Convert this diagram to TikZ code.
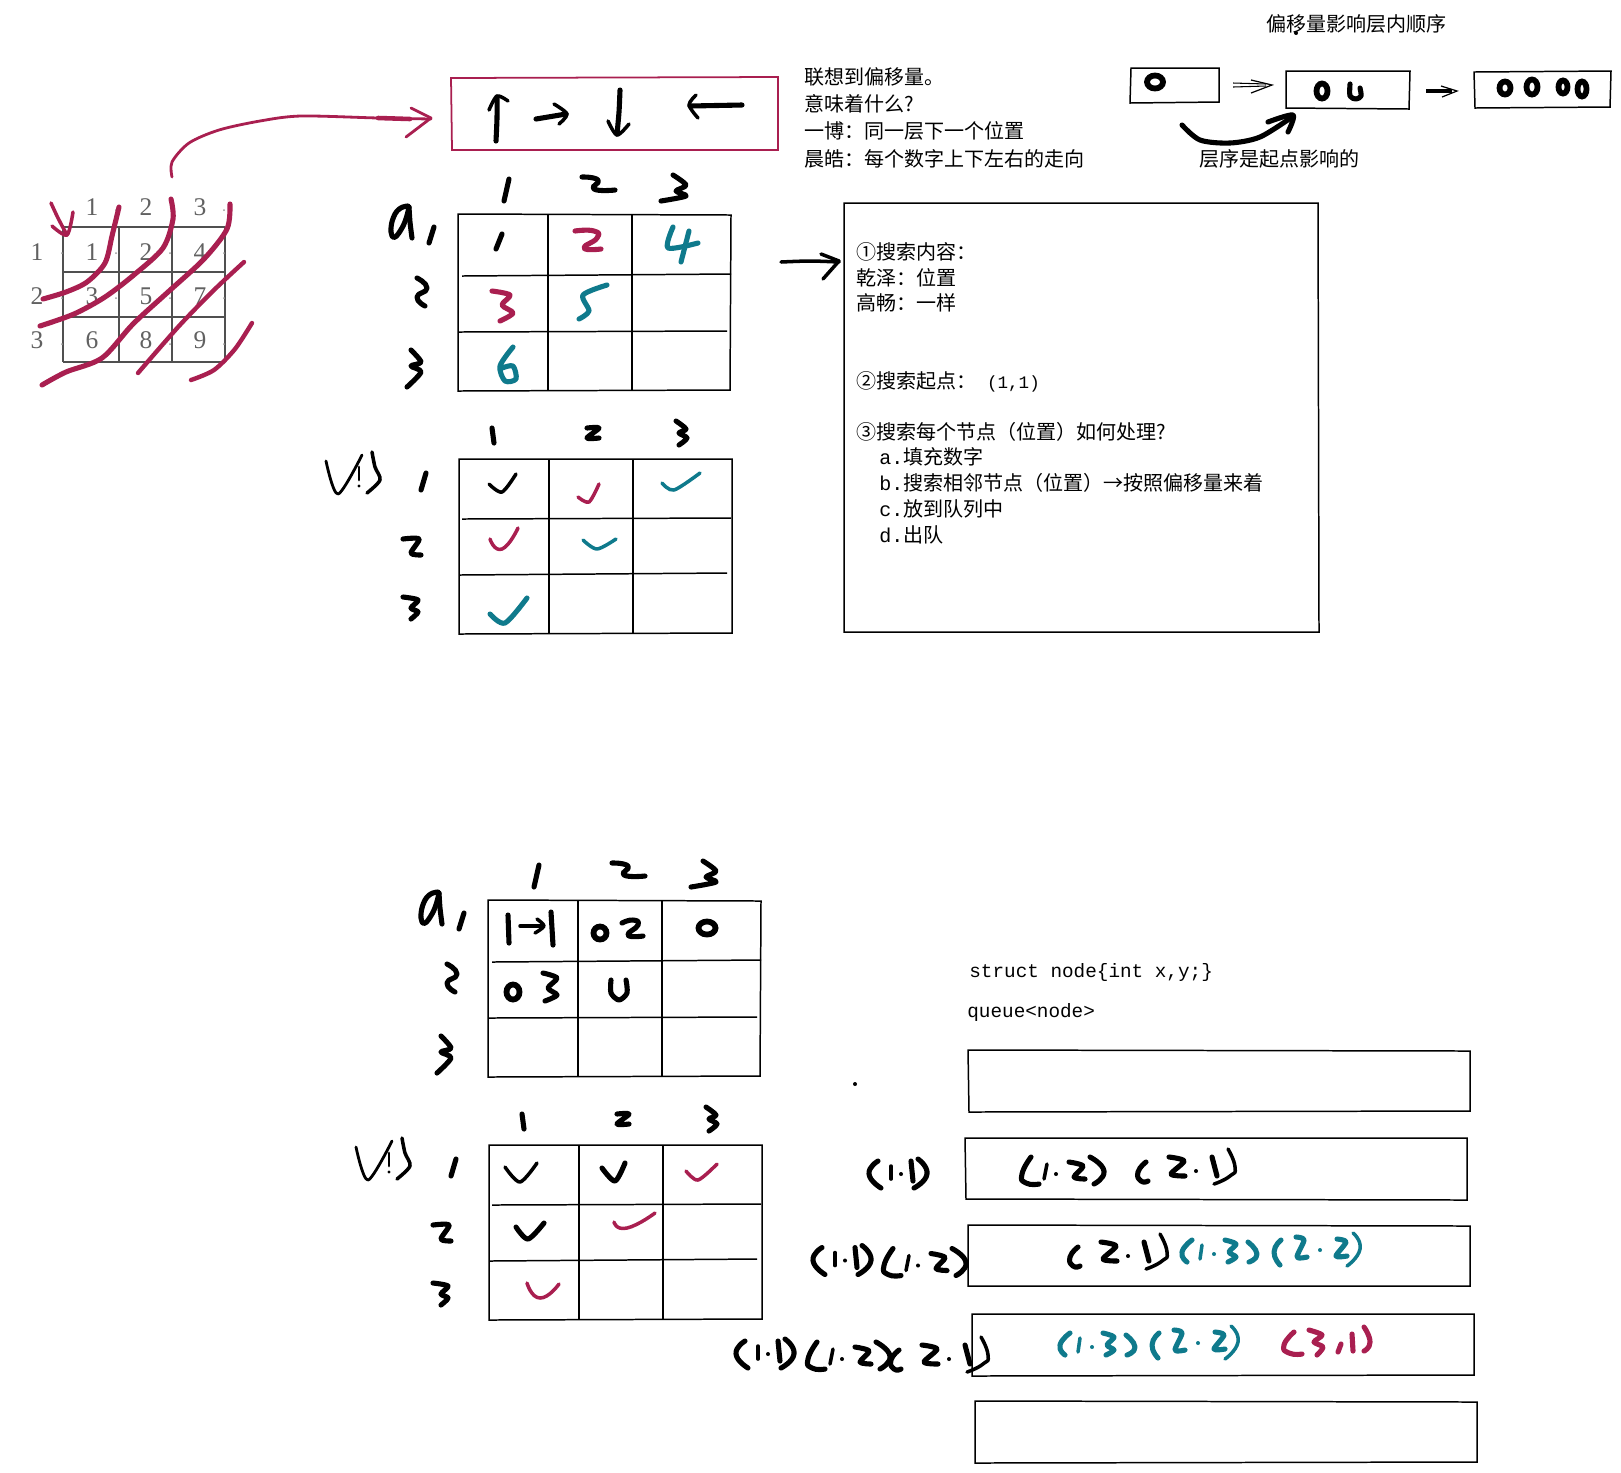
\documentclass[tikz,border=0pt]{standalone}
\usepackage{fontspec}
\setmainfont{Noto Sans CJK SC}
\setmonofont{Liberation Mono}
\newfontfamily\griddigitfont{Liberation Serif}
\definecolor{plum}{HTML}{A91F50}
\definecolor{sea}{HTML}{0F7A8C}
\definecolor{griddark}{HTML}{505050}
\newcommand{\hand}[2][]{\draw[pen,#1] plot[smooth] coordinates {#2};}
\newcommand{\bow}[2][]{\draw[pen,#1] plot[smooth,tension=1] coordinates {#2};}

\begin{document}
\begin{tikzpicture}[
    x=0.02cm,         % 1 unit = 1 pixel of the sketch
    y=-0.02cm,
    pen/.style={line width=2.9pt, line cap=round, line join=round},
    fine/.style={line width=2pt, line cap=round, line join=round},
    thinpen/.style={line width=1.6pt, line cap=round, line join=round},
    zero/.style={line width=3.3pt},
    box/.style={line width=0.85pt},
    note/.style={anchor=west, inner sep=0pt, font=\fontsize{11.4}{13}\selectfont, text height=0.85em, text depth=0.2em},
    code/.style={anchor=west, inner sep=0pt, font=\fontsize{11}{13}\selectfont\ttfamily, text height=0.8em, text depth=0.2em},
    griddigit/.style={inner sep=0pt, text=black!62, font=\fontsize{14.5}{16}\selectfont\griddigitfont},
]
\useasboundingbox (0,0) rectangle (1621,1472);

% Small grid with its diagonals
\foreach \x in {63,119,172,225} \draw[griddark, line width=0.85pt] (\x,227) -- (\x,362);
\foreach \y in {227,272,317,362} \draw[griddark, line width=0.85pt] (63,\y) -- (225,\y);
\foreach \c/\x/\t in {1/92/1, 2/146/2, 3/200/3}
    \node[griddigit] (top\c) at (\x,207) {\t};
\foreach \r/\y/\t in {1/252/1, 2/296/2, 3/340/3}
    \node[griddigit] (side\r) at (37,\y) {\t};
\foreach \n/\x/\y/\t in {a/92/252/1, b/146/252/2, c/200/252/4,
                         d/92/296/3, e/146/296/5, f/200/296/7,
                         g/92/340/6, h/146/340/8, i/200/340/9}
    \node[griddigit] (cell\n) at (\x,\y) {\t};
\foreach \x in {62,116,170,224}
    \foreach \y in {253,298,344}
        \fill[gray!80] (\x,\y) circle (1);
\foreach \x in {116,224} \fill[gray!80] (\x,210) circle (1);

\hand[plum,fine]{(51,203) (58,218) (67,235)}
\hand[plum,fine]{(52,226) (67,235) (73,212)}
\hand[plum]{(119,207) (112,236) (105,263) (87,282) (66,292) (43,299)}
\hand[plum]{(171,199) (173,219) (163,248) (135,274) (105,297) (74,314) (40,326)}
\hand[plum]{(230,204) (227,229) (204,259) (168,292) (133,324) (102,358) (66,372) (42,385)}
\hand[plum,line width=2.5pt]{(244,262) (214,290) (179,326) (138,373)}
\hand[plum,line width=2.5pt]{(252,323) (235,349) (214,370) (191,380)}

% Long arrow up to the direction box
\hand[plum,thinpen]{(172,177) (172,162) (189,143) (219,130) (260,121) (301,116) (378,118) (431,119)}
\draw[plum, line width=2.6pt, line cap=round] (378,118) -- (410,119);
\draw[plum, thinpen] (411,108) -- (431,118) -- (406,137);

% Direction box
\draw[plum, line width=1pt] (451,78) -- (778,77) -- (778,150) -- (452,150) -- cycle;
\hand{(496,141) (497,118) (497,97)}
\hand[fine]{(489,110) (497,96) (508,101)}
\hand{(536,119) (566,114)}
\hand[fine]{(554,104) (567,114) (559,124)}
\hand{(620,90) (619,112) (617,134)}
\hand[fine]{(608,121) (617,135) (629,124)}
\hand{(742,105) (690,106)}
\hand[fine]{(696,95) (689,105) (698,118)}

% Table a (top one, repeated below)
\def\tablea{
    \draw[box] (458,214) -- (731,215) -- (730,390) -- (458,391) -- cycle;
    \draw[box] (548,214) -- (548,390);
    \draw[box] (632,214) -- (632,390);
    \draw[box] (462,276) -- (731,274);
    \draw[box] (459,332) -- (727,331);
    \hand{(509,179) (504,201)}
    \bow{(582,177) (598,180) (594,189) (615,190)}
    \hand{(673,175) (686,185) (676,191) (686,196) (661,201)}
    \bow{(408,206) (395,214) (392,236) (402,228) (409,207)}
    \hand{(409,207) (410,222) (412,238)}
    \hand{(434,227) (429,243)}
    \bow{(417,278) (427,288) (417,297) (425,306)}
    \hand{(411,350) (421,362) (411,366) (421,372) (407,387)}
}
\tablea
\hand{(502,234) (496,249)}
\bow[plum]{(575,231) (594,231) (597,238) (584,248) (601,249)}
\hand[sea]{(673,227) (668,248) (698,243)}
\hand[sea]{(689,231) (681,262)}
\hand[plum]{(492,291) (510,295) (502,305) (513,313) (500,321)}
\hand[sea]{(607,285) (583,295) (589,311) (579,319)}
\hand[sea]{(513,347) (500,366) (505,381) (516,379) (513,366) (502,368)}

% Table vis (top one, repeated below)
\def\tablevis{
    \draw[box] (459,459) -- (732,459) -- (732,633) -- (459,634) -- cycle;
    \draw[box] (549,459) -- (549,633);
    \draw[box] (633,460) -- (633,633);
    \draw[box] (462,519) -- (731,518);
    \draw[box] (459,575) -- (727,573);
    \hand{(492,428) (494,443)}
    \hand{(587,428) (599,428) (587,438) (599,438)}
    \hand{(676,421) (686,429) (679,433) (687,438) (679,445)}
    \hand[thinpen]{(326,461) (338,494) (362,455)}
    \hand[thinpen]{(359,467) (359,480)}
    \fill (359,486) circle (1.6);
    \hand[fine]{(372,452) (375,467) (380,480) (367,493)}
    \hand{(426,473) (421,490)}
    \hand{(403,539) (419,539) (411,553) (421,555)}
    \hand{(403,597) (418,600) (411,608) (418,612) (411,619)}
}
\tablevis
\hand[fine]{(489,484) (502,492) (516,474)}
\hand[plum,fine]{(578,497) (589,502) (599,484)}
\hand[sea,fine]{(662,483) (674,490) (700,473)}
\bow[plum,fine]{(490,539) (502,549) (518,528)}
\hand[sea,fine]{(583,540) (597,549) (616,539)}
\hand[sea,pen]{(490,614) (505,623) (527,598)}

% Arrow into the big box
\hand[fine]{(781,262) (810,261) (839,262)}
\draw[fine] (821,254) -- (839,261) -- (823,279);

% Notes
\node[note] (linkA) at (804,79)  {联想到偏移量。};
\node[note] (linkB) at (804,106) {意味着什么?};
\node[note] (linkC) at (804,133) {一博：同一层下一个位置};
\node[note] (linkD) at (804,161) {晨皓：每个数字上下左右的走向};
\node[note] (orderTitle) at (1266,26)  {偏移量影响层内顺序};
\node[note] (orderNote)  at (1199,161) {层序是起点影响的};
\fill (1296,33) circle (2);

% Level boxes
\draw[box] (1131,68) -- (1219,68) -- (1219,102) -- (1130,103) -- cycle;
\draw[box] (1286,71) -- (1410,71) -- (1409,109) -- (1286,108) -- cycle;
\draw[box] (1474,72) -- (1611,71) -- (1610,107) -- (1475,108) -- cycle;
\draw[zero] (1155,82) ellipse [x radius=8, y radius=6.5];
\draw[zero] (1322,91) ellipse [x radius=5.5, y radius=7.5];
\hand{(1350,84) (1350,96) (1356,99) (1361,96) (1360,88)}
\draw[zero] (1505,88) ellipse [x radius=5.5, y radius=6.5];
\draw[zero] (1532,87) ellipse [x radius=5.5, y radius=7.5];
\draw[zero] (1563,87) ellipse [x radius=4.5, y radius=6.5];
\draw[zero] (1582,89) ellipse [x radius=4.5, y radius=7.5];
\draw[line width=0.6pt] (1233,83) -- (1266,84);
\draw[line width=0.6pt] (1233,87) -- (1266,86);
\draw[line width=0.7pt] (1251,80) -- (1272,85) -- (1251,93);
\draw[line width=0.6pt] (1426,90) -- (1452,90);
\draw[line width=0.6pt] (1426,92) -- (1452,92);
\draw[line width=0.7pt] (1441,86) -- (1457,91) -- (1442,97);
\hand[pen]{(1182,125) (1200,140) (1230,143) (1260,137) (1292,117)}
\hand{(1268,122) (1293,115) (1288,132)}

% Big box with the plan
\draw[box] (844,203) -- (1318,203) -- (1319,632) -- (844,632) -- cycle;
\node[note] (planA) at (856,254) {①搜索内容：};
\node[note] (planB) at (856,280) {乾泽：位置};
\node[note] (planC) at (856,305) {高畅：一样};
\node[note] (planD) at (856,383) {②搜索起点：\hspace{6pt}{\fontsize{10}{12}\selectfont\texttt{(1,1)}}};
\node[note] (planE) at (856,434) {③搜索每个节点（位置）如何处理?};
\node[note] (planF) at (879,459) {\texttt{a.}填充数字};
\node[note] (planG) at (879,485) {\texttt{b.}搜索相邻节点（位置）→按照偏移量来着};
\node[note] (planH) at (879,511) {\texttt{c.}放到队列中};
\node[note] (planI) at (879,537) {\texttt{d.}出队};

% Bottom tables
\begin{scope}[shift={(30,686)}]
    \tablea
    \tablevis
\end{scope}
\hand{(508,915) (509,943)}
\hand[fine]{(520,926) (543,926)}
\hand[fine]{(537,919) (544,926) (535,933)}
\hand{(551,912) (553,945)}
\draw[zero] (600,933) ellipse [x radius=6.5, y radius=6.5];
\bow{(622,923) (633,920) (638,925) (628,935) (643,936)}
\draw[zero] (707,928) ellipse [x radius=8.5, y radius=6.5];
\draw[zero] (513,992) ellipse [x radius=6.5, y radius=7.5];
\hand{(543,973) (557,978) (548,988) (557,995) (545,1001)}
\hand{(611,980) (611,993) (619,1000) (627,993) (626,980)}
\hand[fine]{(505,1167) (520,1182) (537,1163)}
\hand[pen]{(602,1168) (615,1181) (625,1163)}
\hand[plum,fine]{(686,1171) (698,1180) (717,1164)}
\hand[pen]{(516,1227) (528,1239) (544,1223)}
\bow[plum,fine]{(614,1222) (627,1228) (655,1213)}
\bow[plum,fine]{(527,1283) (540,1298) (559,1284)}

% Queue text and boxes
\node[code] (codeA) at (969,972)  {struct node\{int x,y;\}};
\node[code] (codeB) at (967,1012) {queue<node>};
\fill (855,1084) circle (2);
\draw[box] (968,1050) -- (1470,1051) -- (1470,1111) -- (969,1112) -- cycle;
\draw[box] (965,1138) -- (1467,1138) -- (1467,1200) -- (966,1199) -- cycle;
\draw[box] (968,1225) -- (1470,1226) -- (1470,1286) -- (968,1286) -- cycle;
\draw[box] (972,1314) -- (1474,1314) -- (1474,1375) -- (972,1376) -- cycle;
\draw[box] (975,1401) -- (1477,1402) -- (1477,1462) -- (975,1463) -- cycle;

% Handwritten pairs
\def\pairOneOne{
    \bow{(878,1161) (869,1174) (881,1188)}
    \hand[fine]{(891,1166) (891,1179)}
    \fill (901,1174) circle (2);
    \hand{(911,1161) (913,1181)}
    \bow{(918,1159) (927,1174) (914,1188)}
}
\def\pairOneTwo{
    \bow{(1031,1157) (1022,1174) (1026,1183) (1039,1184)}
    \hand[fine]{(1047,1164) (1044,1179)}
    \fill (1056,1174) circle (2);
    \hand{(1069,1162) (1083,1166) (1074,1177) (1085,1179)}
    \bow{(1090,1157) (1104,1171) (1094,1184)}
}
\def\pairTwoOne{
    \bow{(1146,1162) (1138,1172) (1141,1181) (1148,1181)}
    \hand{(1169,1157) (1184,1161) (1171,1174) (1185,1176)}
    \fill (1196,1171) circle (2);
    \hand{(1212,1157) (1217,1176)}
    \bow[fine]{(1228,1149) (1235,1167) (1230,1176) (1214,1184)}
}
\def\pairOneThree{
    \bow[sea]{(1192,1240) (1182,1252) (1187,1262)}
    \hand[sea,fine]{(1202,1245) (1200,1259)}
    \fill[sea] (1214,1254) circle (2);
    \hand[sea]{(1225,1240) (1236,1244) (1229,1252) (1236,1257) (1228,1262)}
    \bow[sea]{(1248,1242) (1257,1254) (1249,1262)}
}
\def\pairTwoTwo{
    \bow[sea]{(1281,1240) (1274,1252) (1280,1265)}
    \hand[sea]{(1296,1237) (1304,1240) (1297,1257) (1307,1257)}
    \fill[sea] (1320,1250) circle (2);
    \hand[sea]{(1337,1239) (1346,1242) (1336,1256) (1347,1256)}
    \bow[sea,fine]{(1353,1233) (1360,1249) (1347,1266)}
}
\pairOneOne
\pairOneTwo
\pairTwoOne
\begin{scope}[shift={(-56,86.5)}] \pairOneOne \end{scope}
\begin{scope}[shift={(-138,91.5)}] \pairOneTwo \end{scope}
\begin{scope}[shift={(-68,85)}] \pairTwoOne \end{scope}
\pairOneThree
\pairTwoTwo
\begin{scope}[shift={(-133,180)}] \pairOneOne \end{scope}
\begin{scope}[shift={(-214,185)}] \pairOneTwo \end{scope}
\begin{scope}[shift={(-247,188)}] \pairTwoOne \end{scope}
\begin{scope}[shift={(-122,93)}] \pairOneThree \pairTwoTwo \end{scope}
\bow[plum]{(1294,1332) (1284,1345) (1289,1353) (1302,1354)}
\hand[plum]{(1309,1330) (1322,1335) (1314,1342) (1323,1347) (1317,1355)}
\hand[plum]{(1341,1344) (1338,1352)}
\hand[plum]{(1352,1334) (1353,1351)}
\bow[plum]{(1364,1327) (1370,1342) (1364,1351)}

\end{tikzpicture}
\end{document}
